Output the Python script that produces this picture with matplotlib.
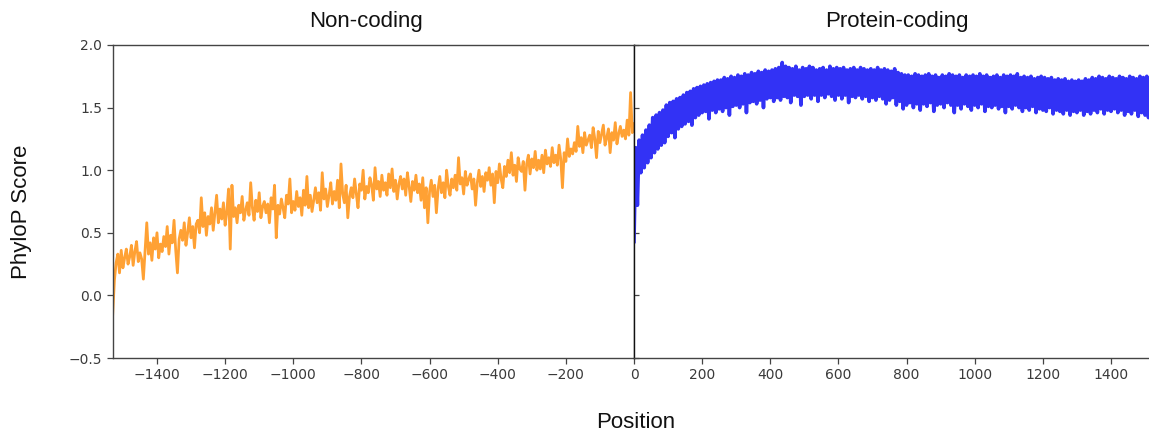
import numpy as np
import matplotlib.pyplot as plt


# Positions upstream (non-coding) and downstream (protein-coding), every 5 bp
noncoding_pos = np.arange(-1530, 1, 5)
coding_pos = np.arange(0, 1531, 5)

# Mean PhyloP score, 10 values per row (50 bp)
noncoding_score = [
    -0.15, 0.12, 0.26, 0.33, 0.18, 0.36, 0.22, 0.30, 0.37, 0.25,
    0.31, 0.40, 0.24, 0.35, 0.43, 0.27, 0.34, 0.29, 0.13, 0.36,
    0.58, 0.33, 0.42, 0.28, 0.46, 0.37, 0.50, 0.30, 0.41, 0.35,
    0.47, 0.39, 0.55, 0.33, 0.48, 0.42, 0.60, 0.36, 0.18, 0.45,
    0.52, 0.44, 0.58, 0.40, 0.50, 0.62, 0.46, 0.55, 0.38, 0.57,
    0.60, 0.50, 0.78, 0.55, 0.66, 0.48, 0.63, 0.57, 0.70, 0.52,
    0.66, 0.80, 0.58, 0.69, 0.61, 0.74, 0.56, 0.67, 0.85, 0.37,
    0.88, 0.63, 0.70, 0.58, 0.72, 0.66, 0.79, 0.60, 0.68, 0.74,
    0.64, 0.90, 0.70, 0.60, 0.76, 0.67, 0.82, 0.62, 0.71, 0.75,
    0.66, 0.73, 0.58, 0.78, 0.69, 0.88, 0.46, 0.72, 0.65, 0.77,
    0.70, 0.62, 0.80, 0.73, 0.93, 0.66, 0.75, 0.68, 0.83, 0.71,
    0.78, 0.64, 0.84, 0.72, 0.95, 0.70, 0.80, 0.67, 0.76, 0.86,
    0.74, 0.82, 0.68, 0.98, 0.77, 0.85, 0.71, 0.80, 0.90, 0.73,
    0.83, 0.76, 0.92, 0.70, 1.05, 0.81, 0.74, 0.88, 0.62, 0.79,
    0.86, 0.78, 0.93, 0.81, 0.70, 0.89, 0.84, 1.00, 0.77, 0.87,
    0.82, 0.94, 0.88, 0.76, 1.02, 0.85, 0.91, 0.79, 0.96, 0.84,
    0.90, 0.80, 0.97, 0.86, 1.01, 0.83, 0.92, 0.77, 0.89, 0.95,
    0.85, 0.93, 0.80, 0.98, 0.87, 0.75, 0.91, 0.84, 0.96, 0.82,
    0.89, 0.76, 0.94, 0.70, 0.86, 0.58, 0.83, 0.92, 0.79, 0.88,
    0.66, 0.85, 0.95, 0.82, 0.90, 0.78, 1.00, 0.87, 0.80, 0.93,
    0.86, 0.96, 0.84, 1.10, 0.89, 0.94, 0.81, 0.99, 0.88, 0.93,
    0.97, 0.85, 0.93, 0.72, 0.90, 1.00, 0.87, 0.95, 0.83, 0.98,
    0.92, 1.02, 0.88, 0.97, 0.74, 0.99, 0.90, 1.05, 0.93, 0.86,
    1.03, 0.95, 1.08, 0.98, 1.14, 0.96, 1.04, 0.91, 1.10, 1.01,
    0.99, 1.07, 0.84, 1.05, 1.12, 0.97, 1.09, 1.02, 1.15, 1.00,
    1.08, 1.01, 1.12, 0.98, 1.16, 1.05, 1.10, 1.03, 1.18, 1.06,
    1.12, 1.04, 1.20, 1.09, 0.86, 1.14, 1.07, 1.25, 1.11, 1.17,
    1.13, 1.22, 1.15, 1.35, 1.19, 1.26, 1.14, 1.30, 1.20, 1.24,
    1.28, 1.18, 1.34, 1.25, 1.10, 1.31, 1.22, 1.29, 1.36, 1.20,
    1.26, 1.33, 1.14, 1.30, 1.24, 1.38, 1.21, 1.29, 1.35, 1.27,
    1.32, 1.25, 1.40, 1.28, 1.62, 1.30, 1.37,
]

coding_score = [
    0.43, 1.18, 0.72, 1.24, 0.98, 1.28, 1.02, 1.32, 1.06, 1.36,
    1.10, 1.42, 1.14, 1.44, 1.17, 1.46, 1.20, 1.48, 1.22, 1.52,
    1.27, 1.54, 1.30, 1.55, 1.26, 1.57, 1.33, 1.58, 1.35, 1.60,
    1.37, 1.62, 1.39, 1.63, 1.36, 1.65, 1.42, 1.66, 1.44, 1.67,
    1.46, 1.68, 1.47, 1.69, 1.41, 1.70, 1.48, 1.71, 1.46, 1.72,
    1.49, 1.72, 1.47, 1.74, 1.50, 1.73, 1.44, 1.75, 1.51, 1.74,
    1.52, 1.76, 1.50, 1.75, 1.53, 1.77, 1.46, 1.76, 1.54, 1.78,
    1.55, 1.77, 1.53, 1.79, 1.56, 1.78, 1.50, 1.80, 1.57, 1.79,
    1.58, 1.80, 1.55, 1.81, 1.58, 1.82, 1.56, 1.86, 1.59, 1.83,
    1.58, 1.82, 1.54, 1.81, 1.60, 1.83, 1.59, 1.80, 1.52, 1.82,
    1.59, 1.81, 1.60, 1.83, 1.57, 1.82, 1.60, 1.80, 1.55, 1.81,
    1.60, 1.82, 1.58, 1.80, 1.61, 1.83, 1.59, 1.81, 1.56, 1.82,
    1.60, 1.81, 1.57, 1.82, 1.60, 1.80, 1.54, 1.81, 1.59, 1.82,
    1.58, 1.80, 1.60, 1.82, 1.57, 1.81, 1.59, 1.80, 1.55, 1.81,
    1.58, 1.80, 1.56, 1.82, 1.59, 1.80, 1.57, 1.81, 1.53, 1.80,
    1.56, 1.79, 1.58, 1.81, 1.52, 1.78, 1.55, 1.77, 1.49, 1.76,
    1.52, 1.76, 1.54, 1.75, 1.50, 1.77, 1.53, 1.76, 1.48, 1.75,
    1.53, 1.76, 1.51, 1.77, 1.54, 1.75, 1.47, 1.76, 1.52, 1.74,
    1.53, 1.76, 1.50, 1.75, 1.54, 1.77, 1.52, 1.76, 1.46, 1.75,
    1.52, 1.76, 1.49, 1.74, 1.53, 1.76, 1.51, 1.75, 1.48, 1.76,
    1.52, 1.75, 1.50, 1.77, 1.53, 1.75, 1.47, 1.76, 1.51, 1.74,
    1.50, 1.75, 1.52, 1.76, 1.49, 1.74, 1.51, 1.76, 1.46, 1.75,
    1.51, 1.76, 1.49, 1.75, 1.52, 1.77, 1.50, 1.74, 1.47, 1.75,
    1.50, 1.74, 1.48, 1.75, 1.51, 1.73, 1.46, 1.74, 1.49, 1.75,
    1.48, 1.74, 1.47, 1.73, 1.50, 1.74, 1.45, 1.72, 1.48, 1.73,
    1.47, 1.72, 1.45, 1.73, 1.48, 1.71, 1.44, 1.72, 1.47, 1.71,
    1.46, 1.72, 1.48, 1.71, 1.44, 1.73, 1.47, 1.72, 1.45, 1.74,
    1.48, 1.73, 1.46, 1.75, 1.49, 1.74, 1.45, 1.73, 1.48, 1.75,
    1.47, 1.74, 1.49, 1.73, 1.46, 1.75, 1.48, 1.74, 1.44, 1.73,
    1.47, 1.75, 1.45, 1.74, 1.48, 1.73, 1.43, 1.75, 1.46, 1.74,
    1.44, 1.75, 1.42, 1.73, 1.45, 1.74, 1.43,
]

noncoding_ticks = [-1400, -1200, -1000, -800, -600, -400, -200]
coding_ticks = [0, 200, 400, 600, 800, 1000, 1200, 1400]
score_ticks = [-0.5, 0.0, 0.5, 1.0, 1.5, 2.0]

W, H = 1149, 433
fig = plt.figure(figsize=(W / 100, H / 100), dpi=100)

ax_nc = fig.add_axes([112.7 / W, 75 / H, 521.3 / W, 313 / H])
ax_pc = fig.add_axes([634 / W, 75 / H, 521.3 / W, 313 / H])

ax_nc.plot(noncoding_pos, noncoding_score, color='#ffa134', lw=2.0)
ax_pc.plot(coding_pos, coding_score, color='#3232f5', lw=2.6)

tick_color = '#3a3a3a'
for ax in (ax_nc, ax_pc):
    ax.set_ylim(-0.5, 2.0)
    for s in ax.spines.values():
        s.set_color('#444444')
        s.set_linewidth(1.0)
    ax.tick_params(labelsize=10, colors='#444444', labelcolor=tick_color,
                   length=4, width=0.9)

ax_nc.set_xlim(-1530, 0)
ax_nc.set_xticks(noncoding_ticks)
ax_nc.set_yticks(score_ticks)
ax_nc.set_yticklabels(['\u22120.5', '0.0', '0.5', '1.0', '1.5', '2.0'])
ax_nc.set_xticklabels(['\u2212' + str(-t) for t in noncoding_ticks])

ax_pc.set_xlim(0, 1530)
ax_pc.set_xticks(coding_ticks)
ax_pc.set_yticks(score_ticks)
ax_pc.tick_params(axis='y', direction='in', length=3.5, labelleft=False)
ax_pc.spines['left'].set_color('#111111')

# panel titles and axis labels
label_font = dict(family=['Liberation Sans', 'DejaVu Sans'], fontsize=16, color='#111111')
fig.text(366 / W, 1 - 21 / H, 'Non-coding', ha='center', va='center', **label_font)
fig.text(897 / W, 1 - 21 / H, 'Protein-coding', ha='center', va='center', **label_font)
fig.text(22 / W, 1 - 212 / H, 'PhyloP Score', ha='center', va='center', rotation=90, **label_font)
fig.text(636 / W, 1 - 423 / H, 'Position', ha='center', va='center', **label_font)

fig.savefig('out.png', dpi=100)
